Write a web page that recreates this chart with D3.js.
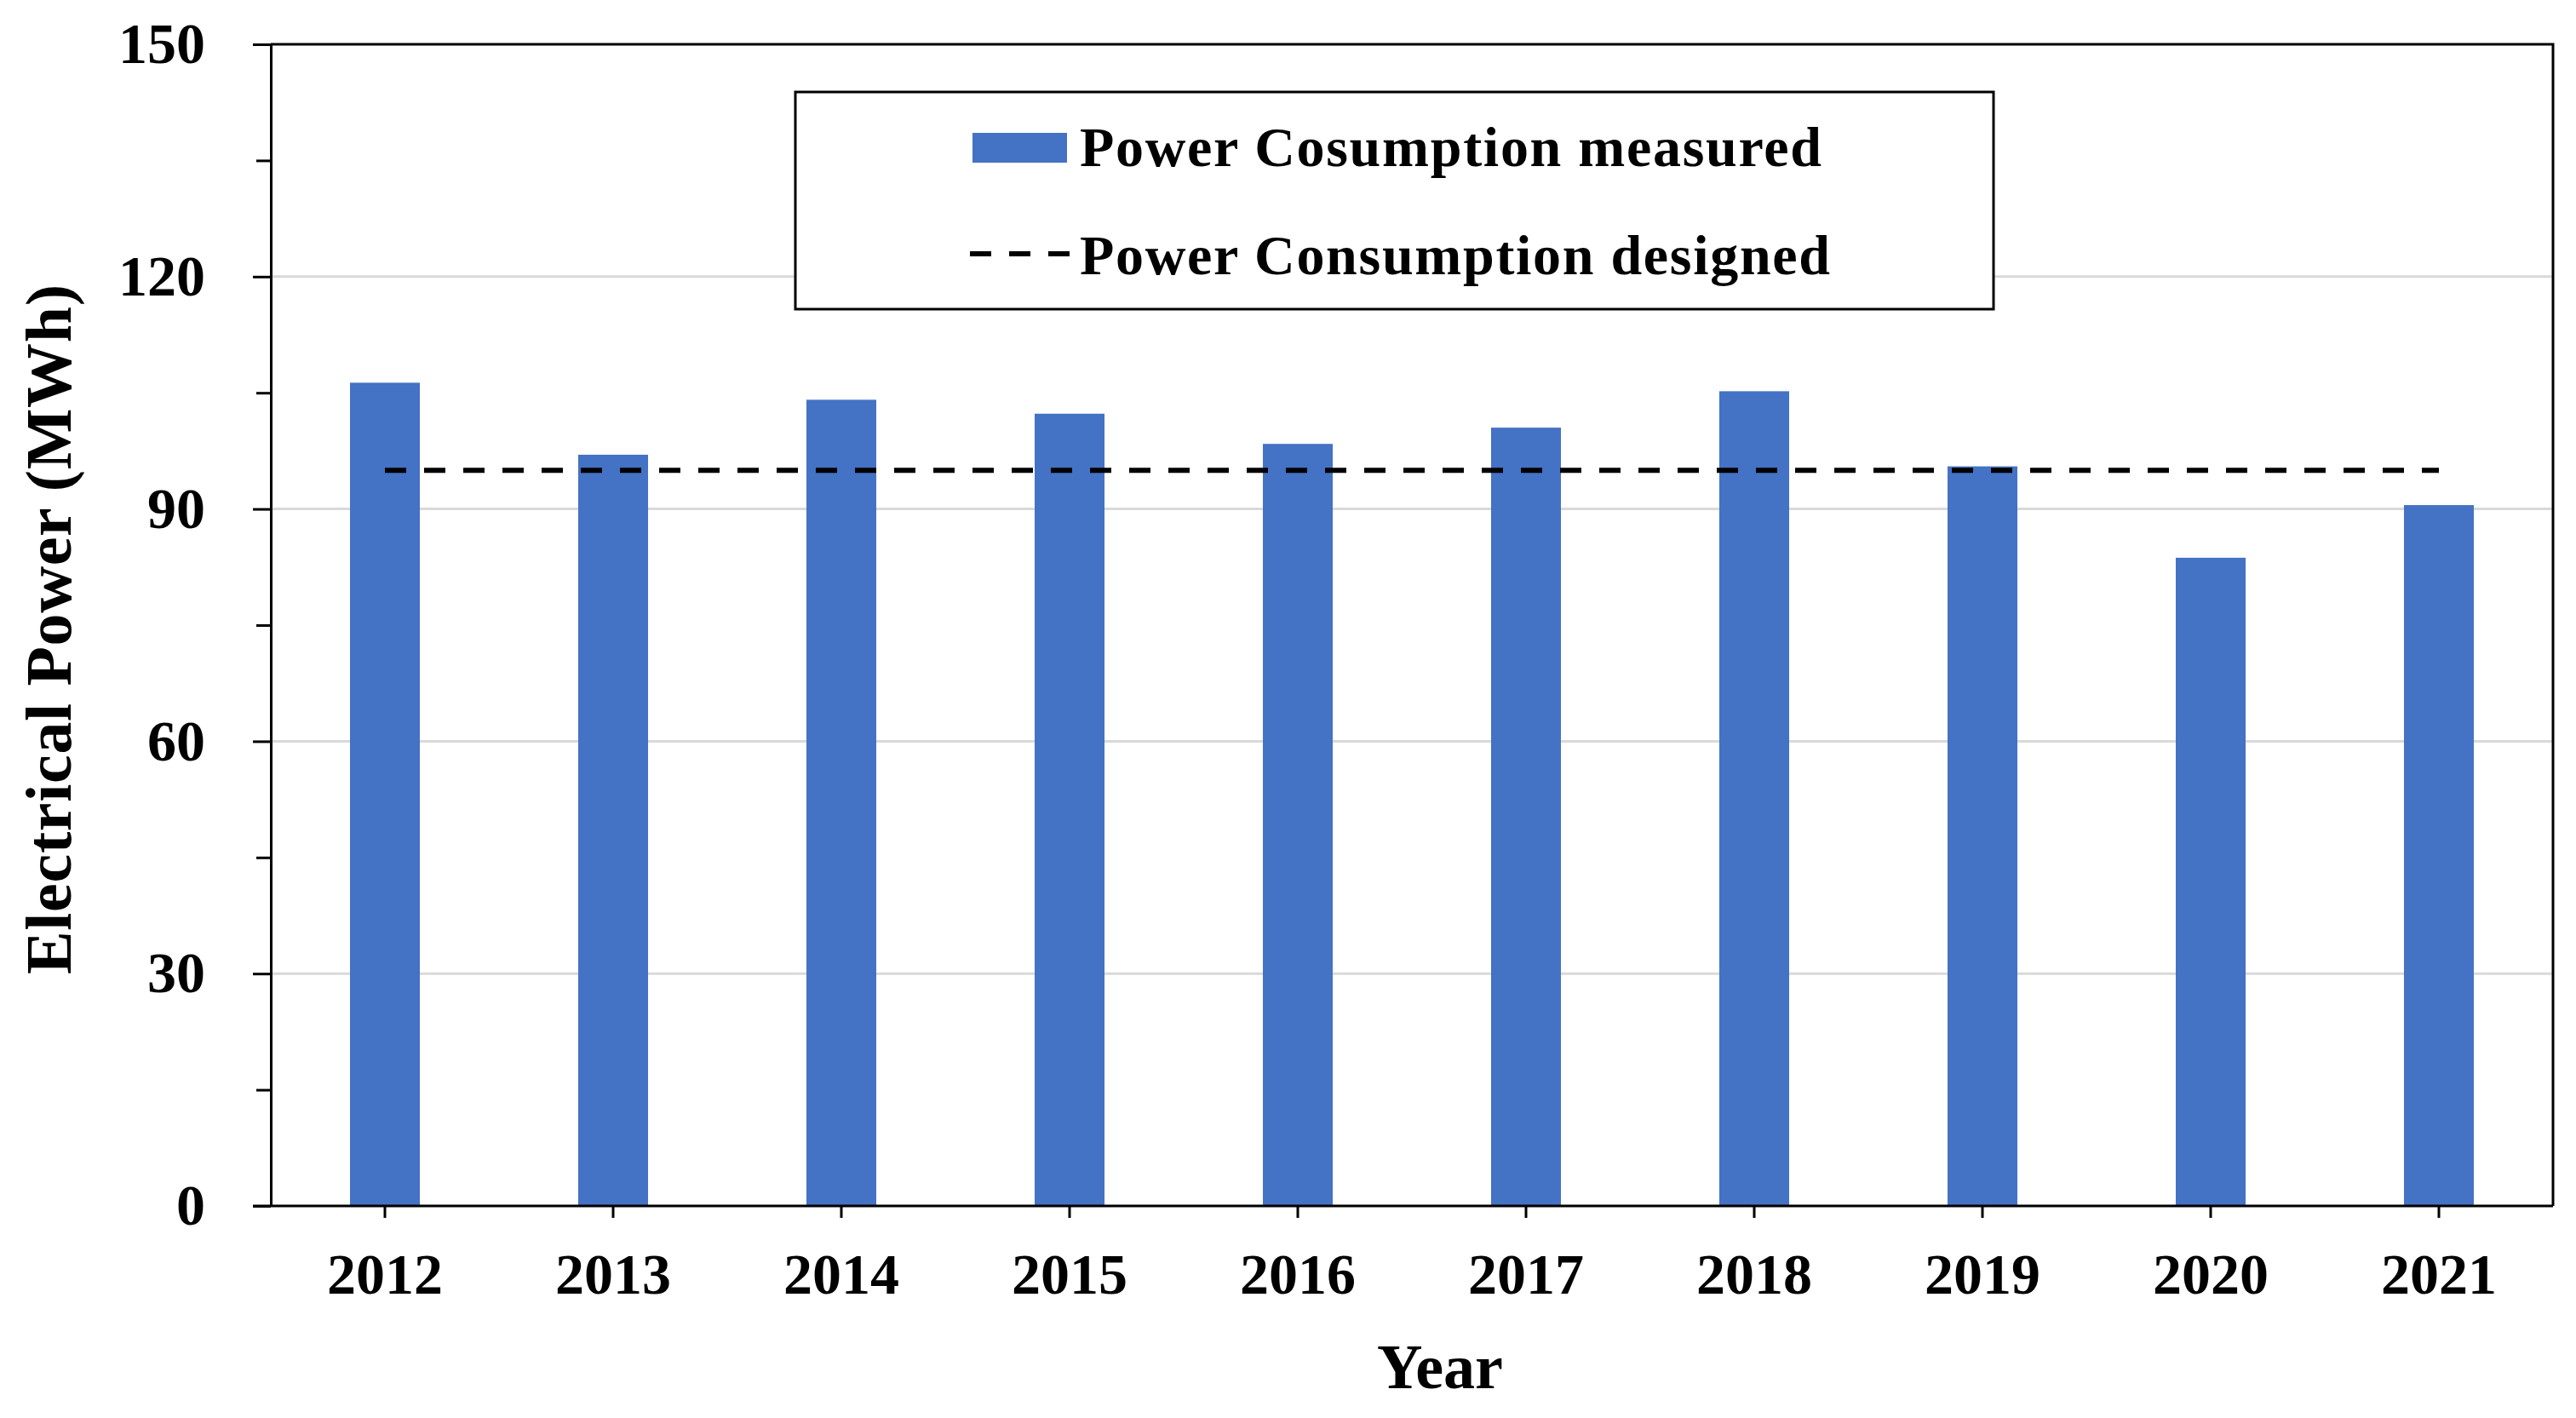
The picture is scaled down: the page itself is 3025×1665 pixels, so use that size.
<!DOCTYPE html>
<html>
<head>
  <meta charset="utf-8" />
  <title>Electrical Power</title>
  <style>
    body {
      margin: 0;
      background: #fff;
    }
    text {
      font-family: "Liberation Serif", "Times New Roman", serif;
      font-weight: bold;
      fill: #000;
    }
  </style>
</head>
<body>
  <svg id="chart"></svg>
  <script src="https://d3js.org/d3.v7.min.js"></script>
  <script>
    const years = ['2012', '2013', '2014', '2015', '2016', '2017', '2018', '2019', '2020', '2021']
    const measured = [106.3, 97.0, 104.1, 102.3, 98.4, 100.5, 105.2, 95.5, 83.7, 90.5]
    const designed = [95, 95, 95, 95, 95, 95, 95, 95, 95, 95]
    const yTicks = [0, 30, 60, 90, 120, 150]
    const yMinorTicks = [15, 45, 75, 105, 135]
    const legendLabels = ['Power Cosumption measured', 'Power Consumption designed']

    const width = 3025
    const height = 1665
    const plot = { left: 318, right: 2998, top: 52, bottom: 1416 }
    const barColor = '#4472C4'

    const svg = d3.select('#chart')
      .attr('width', width)
      .attr('height', height)

    const x = d3.scaleBand()
      .domain(years)
      .range([plot.left, plot.right])
      .paddingInner(0.694)
      .paddingOuter(0.347)

    const y = d3.scaleLinear()
      .domain([0, 150])
      .range([plot.bottom, plot.top])

    // gridlines
    svg.append('g')
      .selectAll('line')
      .data(yTicks.filter(d => d > 0 && d < 150))
      .join('line')
      .attr('x1', plot.left)
      .attr('x2', plot.right)
      .attr('y1', d => y(d))
      .attr('y2', d => y(d))
      .attr('stroke', '#d9d9d9')
      .attr('stroke-width', 3)

    // bars
    svg.append('g')
      .selectAll('rect')
      .data(measured)
      .join('rect')
      .attr('x', (d, i) => x(years[i]))
      .attr('y', d => y(d))
      .attr('width', x.bandwidth())
      .attr('height', d => y(0) - y(d))
      .attr('fill', barColor)

    // designed line
    const line = d3.line()
      .x((d, i) => x(years[i]) + x.bandwidth() / 2)
      .y(d => y(d))

    svg.append('path')
      .datum(designed)
      .attr('d', line)
      .attr('fill', 'none')
      .attr('stroke', '#000')
      .attr('stroke-width', 6)
      .attr('stroke-dasharray', '25 21')

    // frame (top / right)
    svg.append('path')
      .attr('d', `M${plot.left},${plot.top}H${plot.right}V${plot.bottom}`)
      .attr('fill', 'none')
      .attr('stroke', '#000')
      .attr('stroke-width', 3)

    // y axis
    const yAxis = svg.append('g')
      .attr('transform', `translate(${plot.left},0)`)
      .call(d3.axisLeft(y).tickValues(yTicks).tickSize(21).tickPadding(56).tickSizeOuter(0))
    yAxis.select('.domain').attr('stroke-width', 3)
    yAxis.selectAll('.tick line').attr('stroke-width', 3)
    yAxis.selectAll('.tick text')
      .attr('font-size', 68)
      .attr('font-family', null)

    const yMinor = svg.append('g')
      .attr('transform', `translate(${plot.left},0)`)
      .call(d3.axisLeft(y).tickValues(yMinorTicks).tickSize(17).tickFormat(''))
    yMinor.select('.domain').remove()
    yMinor.selectAll('.tick line').attr('stroke-width', 3)

    // x axis
    const xAxis = svg.append('g')
      .attr('transform', `translate(0,${plot.bottom})`)
      .call(d3.axisBottom(x).tickSize(14).tickSizeOuter(0))
    xAxis.select('.domain')
      .attr('d', `M${plot.left - 21},0H${plot.right}`)
      .attr('stroke-width', 3)
    xAxis.selectAll('.tick line').attr('stroke-width', 3)
    xAxis.selectAll('.tick text')
      .attr('font-size', 68)
      .attr('font-family', null)
      .attr('dy', null)
      .attr('y', 1519 - plot.bottom)

    // axis titles
    svg.append('text')
      .attr('x', (plot.left + plot.right) / 2 + 33)
      .attr('y', 1630)
      .attr('text-anchor', 'middle')
      .attr('font-size', 74)
      .text('Year')

    svg.append('text')
      .attr('transform', `translate(83,739) rotate(-90)`)
      .attr('text-anchor', 'middle')
      .attr('font-size', 76)
      .attr('textLength', 810)
      .attr('lengthAdjust', 'spacing')
      .text('Electrical Power (MWh)')

    // legend
    const legend = svg.append('g')
    legend.append('rect')
      .attr('x', 934)
      .attr('y', 108)
      .attr('width', 1407)
      .attr('height', 255)
      .attr('fill', '#fff')
      .attr('stroke', '#000')
      .attr('stroke-width', 3)

    legend.append('rect')
      .attr('x', 1142)
      .attr('y', 156)
      .attr('width', 111)
      .attr('height', 35)
      .attr('fill', barColor)

    legend.append('line')
      .attr('x1', 1139)
      .attr('x2', 1256)
      .attr('y1', 298)
      .attr('y2', 298)
      .attr('stroke', '#000')
      .attr('stroke-width', 6)
      .attr('stroke-dasharray', '25 21')

    legend.selectAll('text.label')
      .data(legendLabels)
      .join('text')
      .attr('class', 'label')
      .attr('x', 1268)
      .attr('y', (d, i) => i === 0 ? 195 : 322)
      .attr('font-size', 66)
      .attr('textLength', (d, i) => i === 0 ? 871 : 881)
      .attr('lengthAdjust', 'spacing')
      .text(d => d)
  </script>
</body>
</html>
